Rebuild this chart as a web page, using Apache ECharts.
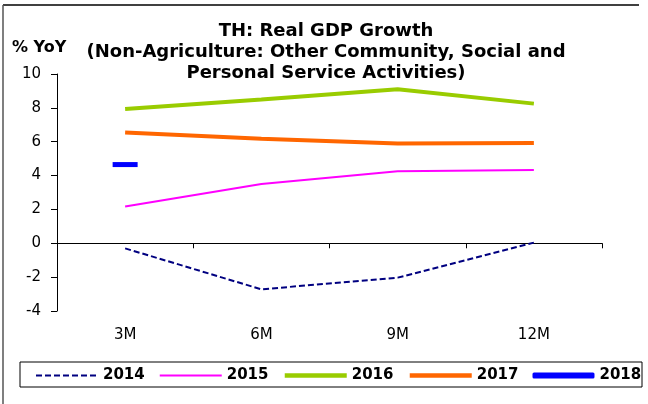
<!DOCTYPE html>
<html>
<head>
<meta charset="utf-8">
<script src="https://cdn.jsdelivr.net/npm/echarts@6/dist/echarts.min.js"></script>
<style>
  html, body { margin: 0; padding: 0; background: #fff; }
  #chart { width: 648px; height: 404px; }
</style>
</head>
<body>
<div id="chart"></div>
<script>
// values
var categories = ['3M', '6M', '9M', '12M'];
var y2014 = [-0.3, -2.72, -2.03, 0.04];
var y2015 = [2.17, 3.5, 4.25, 4.33];
var y2016 = [7.93, 8.5, 9.1, 8.25];
var y2017 = [6.54, 6.18, 5.89, 5.93];
var y2018 = [4.65, null, null, null];
var yTicks = { min: -4, max: 10, step: 2 };

// the reference text is wide, DejaVu Sans matches its width better than Arial
var font = '"DejaVu Sans", Verdana, sans-serif';

var chart = echarts.init(document.getElementById('chart'));

chart.setOption({
    animation: false,
    backgroundColor: '#fff',
    title: [
        {
            text: 'TH: Real GDP Growth\n(Non-Agriculture: Other Community, Social and\nPersonal Service Activities)',
            left: 321,
            top: 16,
            textAlign: 'center',
            textStyle: { fontFamily: font, fontSize: 18, fontWeight: 'bold', color: '#000', lineHeight: 21 }
        },
        {
            text: '% YoY',
            left: 7,
            top: 35,
            textStyle: { fontFamily: font, fontSize: 16, fontWeight: 'bold', color: '#000' }
        }
    ],
    graphic: [
        { type: 'line', shape: { x1: 3, y1: 5, x2: 639, y2: 5 }, style: { stroke: '#000', lineWidth: 1.5 } },
        { type: 'line', shape: { x1: 3, y1: 5, x2: 3, y2: 404 }, style: { stroke: '#555', lineWidth: 1.5 } },
        { type: 'rect', shape: { x: 20, y: 362, width: 622, height: 25 }, style: { fill: null, stroke: '#000', lineWidth: 1 }, z: -1 }
    ],
    grid: { left: 57, right: 46, top: 74, bottom: 93 },
    legend: {
        left: 30,
        top: 363,
        itemWidth: 62,
        itemHeight: 6,
        itemGap: 14,
        textStyle: { fontFamily: font, fontSize: 15, fontWeight: 'bold', color: '#000' },
        data: [
            { name: '2014', itemStyle: { opacity: 0 }, lineStyle: { width: 2 } },
            { name: '2015', itemStyle: { opacity: 0 }, lineStyle: { width: 2 } },
            { name: '2016', itemStyle: { opacity: 0 }, lineStyle: { width: 4.5 } },
            { name: '2017', itemStyle: { opacity: 0 }, lineStyle: { width: 4.5 } },
            { name: '2018', icon: 'roundRect' }
        ]
    },
    xAxis: [
        {
            type: 'category',
            data: categories,
            boundaryGap: true,
            axisLine: { onZero: true, lineStyle: { color: '#000', width: 1 } },
            axisTick: { show: true, length: 5, inside: false, lineStyle: { color: '#000' } },
            axisLabel: { show: false },
            splitLine: { show: false }
        },
        {
            type: 'category',
            data: categories,
            position: 'bottom',
            boundaryGap: true,
            axisLine: { show: false, onZero: false },
            axisTick: { show: false },
            axisLabel: { margin: 17, fontFamily: font, fontSize: 15, color: '#000' },
            splitLine: { show: false }
        }
    ],
    yAxis: {
        type: 'value',
        min: yTicks.min,
        max: yTicks.max,
        interval: yTicks.step,
        axisLine: { show: true, lineStyle: { color: '#000', width: 1 } },
        axisTick: { show: true, length: 6, lineStyle: { color: '#000' } },
        axisLabel: { margin: 16, fontFamily: font, fontSize: 15, color: '#000' },
        splitLine: { show: false }
    },
    series: [
        {
            name: '2014', type: 'line', data: y2014, symbol: 'none',
            itemStyle: { color: '#000080' },
            lineStyle: { color: '#000080', width: 2, type: [6, 3] }
        },
        {
            name: '2015', type: 'line', data: y2015, symbol: 'none',
            itemStyle: { color: '#FF00FF' },
            lineStyle: { color: '#FF00FF', width: 2 }
        },
        {
            name: '2016', type: 'line', data: y2016, symbol: 'none',
            itemStyle: { color: '#99CC00' },
            lineStyle: { color: '#99CC00', width: 4 }
        },
        {
            name: '2017', type: 'line', data: y2017, symbol: 'none',
            itemStyle: { color: '#FF6600' },
            lineStyle: { color: '#FF6600', width: 4 }
        },
        {
            name: '2018', type: 'line', data: y2018,
            symbol: 'rect', symbolSize: [25, 5], showSymbol: true,
            itemStyle: { color: '#0000FF' },
            lineStyle: { color: '#0000FF', width: 6 }
        }
    ]
});

window.addEventListener('resize', function () {
    chart.resize();
});
</script>
</body>
</html>
